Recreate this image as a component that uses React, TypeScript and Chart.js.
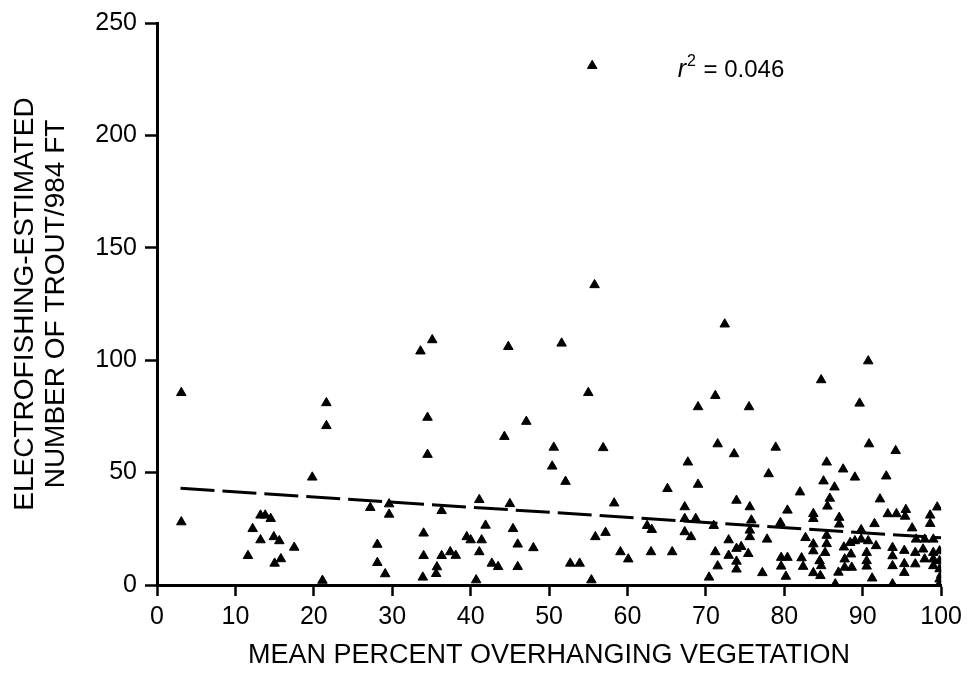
import React, { useEffect, useRef } from "react";
import { Chart, registerables } from "chart.js";

Chart.register(...registerables);

// Mean percent overhanging vegetation (x) for each sampled reach
const vegX = [
  3.1, 3.1, 11.6, 12.2, 13.2, 13.8, 14.5, 13.2, 14.9, 15.6, 15.0, 15.8, 17.5, 19.8, 21.6, 21.6, 21.1,
  27.2, 28.1, 28.1, 29.1, 29.6, 29.6, 33.6, 35.1, 34.5, 34.5, 34.0, 34.0, 33.9, 35.6, 35.7, 36.3, 36.3,
  37.4, 38.1, 39.5, 40.0, 41.4, 41.1, 41.1, 41.9, 42.7, 43.5, 40.7, 44.8, 44.3, 45.0, 45.4, 46.0, 46.0,
  47.1, 48.0, 50.6, 50.4, 51.6, 52.1, 52.7, 53.9, 55.0, 55.5, 55.8, 55.4, 55.9, 56.9, 57.2, 58.3, 59.1,
  60.1, 62.5, 63.1, 63.0, 65.1, 65.7, 67.3, 67.3, 68.7, 67.3, 68.1, 67.7, 69.0, 69.0, 70.4, 71.0, 71.2,
  71.5, 71.2, 71.5, 72.4, 72.9, 72.9, 73.6, 73.9, 73.9, 73.9, 73.9, 74.5, 75.6, 75.5, 75.8, 75.6, 75.6,
  75.4, 77.2, 77.8, 78.0, 78.9, 79.5, 79.6, 80.4, 79.6, 80.2, 80.4, 82.0, 82.2, 82.4, 82.7, 83.7, 83.7,
  83.7, 83.7, 83.7, 84.7, 84.7, 84.5, 84.6, 85.0, 85.4, 85.5, 85.8, 85.4, 85.4, 85.2, 86.4, 87.0, 87.0,
  86.9, 86.5, 87.5, 87.6, 87.7, 87.7, 88.4, 88.5, 88.6, 89.0, 89.0, 89.6, 89.8, 89.8, 90.7, 90.8, 90.7,
  90.5, 90.5, 90.5, 91.2, 91.5, 91.7, 92.2, 93.0, 93.2, 93.8, 93.8, 93.8, 93.8, 94.2, 94.3, 95.5, 95.4,
  95.3, 95.3, 95.3, 96.3, 96.8, 96.7, 96.7, 97.7, 97.9, 97.9, 98.6, 98.6, 99.0, 99.0, 99.0, 99.0, 99.5,
  99.8, 99.8, 99.8, 99.8, 99.8, 100.0,
];

// Electrofishing-estimated number of trout per 984 ft (y), same order as vegX
const troutY = [
  85.5, 28, 13, 25, 31, 31, 29.5, 20, 21.4, 19.6, 9.6, 11.6, 16.7, 47.9, 81, 70.8, 2,
  34.4, 18, 9.9, 4.9, 31.4, 36, 104, 109, 74.5, 58, 23, 13, 3.4, 5, 8, 13, 33,
  14.7, 13.1, 21.4, 20, 20, 14.7, 37.9, 26.5, 9.6, 8.1, 2.2, 106, 66, 36.1, 25, 18.1, 8.1,
  72.7, 16.5, 61.2, 52.8, 107.5, 46, 9.6, 9.6, 85.5, 231, 133.5, 2.2, 21.4, 61, 23.3, 36.4, 14.7,
  11.5, 26.4, 24.6, 14.7, 42.8, 14.7, 34.7, 29.5, 29.5, 23.6, 21.4, 54.6, 79.2, 44.7, 3.4, 26.4, 84.2,
  62.7, 14.7, 8.4, 116, 20, 13.1, 58.3, 37.6, 16.2, 10.5, 7.0, 17, 34.7, 79.2, 28.8, 24.3, 21.4,
  13.9, 5.4, 20.3, 49.4, 61.2, 27.7, 12.2, 12.2, 8.3, 3.8, 33.2, 41.3, 12, 8.2, 21, 31.7, 29.5,
  18.2, 15.1, 5.4, 91.2, 8.5, 10.7, 4.1, 46.2, 54.6, 35, 38.5, 22, 18.3, 14.4, 43.5, 30, 27,
  5.6, 0.4, 51.5, 16.8, 11.5, 7.8, 18.8, 13.7, 7.8, 19.6, 47.9, 80.8, 24.5, 20.3, 99.6, 62.7, 19.6,
  14.4, 10.7, 8.3, 3, 27.2, 17.4, 38.2, 48.4, 31.6, 0.4, 16.6, 12.9, 8.5, 59.7, 31.6, 33.5, 30.5,
  15.3, 9.4, 5.5, 25.3, 20.3, 14.4, 9.3, 15.9, 11.5, 20.3, 31, 27.3, 20.3, 14.4, 11.5, 8.5, 34.6,
  15.1, 10.7, 7.1, 2.6, 0.5, 4.5,
];

// Least-squares trend line end points
const fitX = [3, 100];
const fitY = [43, 21];

const xTicks = [0, 10, 20, 30, 40, 50, 60, 70, 80, 90, 100];
const yTicks = [0, 50, 100, 150, 200, 250];

const xTitle = "MEAN PERCENT OVERHANGING VEGETATION";
const yTitle = ["ELECTROFISHING-ESTIMATED", "NUMBER OF TROUT/984 FT"];

// r-squared annotation: anchor in data units, value
const r2Anchor = [66.4, 226];
const r2Value = "0.046";

const FONT = '"Liberation Sans", Arial, Helvetica, sans-serif';

export default function App() {
  const canvasRef = useRef<HTMLCanvasElement | null>(null);

  useEffect(() => {
    const canvas = canvasRef.current;
    if (!canvas) return;

    const r2Plugin = {
      id: "r2Label",
      afterDraw(chart: any) {
        const { ctx } = chart;
        const xs = chart.scales.x;
        const ys = chart.scales.y;
        const px = xs.getPixelForValue(r2Anchor[0]);
        const py = ys.getPixelForValue(r2Anchor[1]);
        ctx.save();
        ctx.fillStyle = "#000";
        ctx.textAlign = "left";
        ctx.textBaseline = "alphabetic";
        ctx.font = `italic 25px ${FONT}`;
        ctx.fillText("r", px, py);
        const w1 = ctx.measureText("r").width;
        ctx.font = `16px ${FONT}`;
        ctx.fillText("2", px + w1 + 1, py - 11);
        const w2 = ctx.measureText("2").width;
        ctx.font = `24px ${FONT}`;
        ctx.fillText(" = " + r2Value, px + w1 + w2 + 2, py);
        ctx.restore();
      },
    };

    const points = vegX.map((x, i) => ({ x, y: troutY[i] }));
    const line = fitX.map((x, i) => ({ x, y: fitY[i] }));

    const chart = new Chart(canvas, {
      type: "scatter",
      data: {
        datasets: [
          {
            label: "Trout",
            data: points,
            pointStyle: "triangle",
            pointRadius: 5.5,
            pointBackgroundColor: "#000",
            pointBorderColor: "#000",
            pointBorderWidth: 1,
            showLine: false,
          },
          {
            label: "Fit",
            data: line,
            showLine: true,
            borderColor: "#000",
            borderWidth: 3,
            borderDash: [34, 8],
            pointRadius: 0,
            fill: false,
          } as any,
        ],
      },
      options: {
        animation: false,
        responsive: true,
        maintainAspectRatio: false,
        layout: { padding: { top: 19, right: 21, left: 0, bottom: 0 } },
        plugins: {
          legend: { display: false },
          tooltip: { enabled: false },
        },
        scales: {
          x: {
            type: "linear",
            min: 0,
            max: 100,
            afterBuildTicks: (scale: any) => {
              scale.ticks = xTicks.map((v) => ({ value: v }));
            },
            afterFit: (scale: any) => {
              scale.height = 88;
            },
            ticks: {
              color: "#000",
              font: { family: FONT, size: 25 },
              padding: 6,
              maxRotation: 0,
            },
            grid: {
              display: true,
              drawOnChartArea: false,
              drawTicks: true,
              tickLength: 11,
              tickWidth: 2.5,
              tickColor: "#000",
              color: "#000",
            },
            border: { display: true, color: "#000", width: 3 },
            title: {
              display: true,
              text: xTitle,
              color: "#000",
              font: { family: FONT, size: 27, lineHeight: 1.1 },
              padding: { top: 0, bottom: 3 },
            },
          },
          y: {
            type: "linear",
            min: 0,
            max: 250,
            afterBuildTicks: (scale: any) => {
              scale.ticks = yTicks.map((v) => ({ value: v }));
            },
            afterFit: (scale: any) => {
              scale.width = 157;
            },
            ticks: {
              color: "#000",
              font: { family: FONT, size: 25 },
              padding: 8,
            },
            grid: {
              display: true,
              drawOnChartArea: false,
              drawTicks: true,
              tickLength: 12,
              tickWidth: 2.5,
              tickColor: "#000",
              color: "#000",
            },
            border: { display: true, color: "#000", width: 3 },
            title: {
              display: true,
              text: yTitle,
              color: "#000",
              font: { family: FONT, size: 28, lineHeight: 1.1 },
              padding: { top: 10, bottom: 0 },
            },
          },
        },
      },
      plugins: [r2Plugin],
    });

    return () => {
      chart.destroy();
    };
  }, []);

  return (
    <div
      style={{
        position: "fixed",
        left: 0,
        top: 0,
        width: 968,
        height: 673,
        background: "#fff",
      }}
    >
      <canvas ref={canvasRef} />
    </div>
  );
}
